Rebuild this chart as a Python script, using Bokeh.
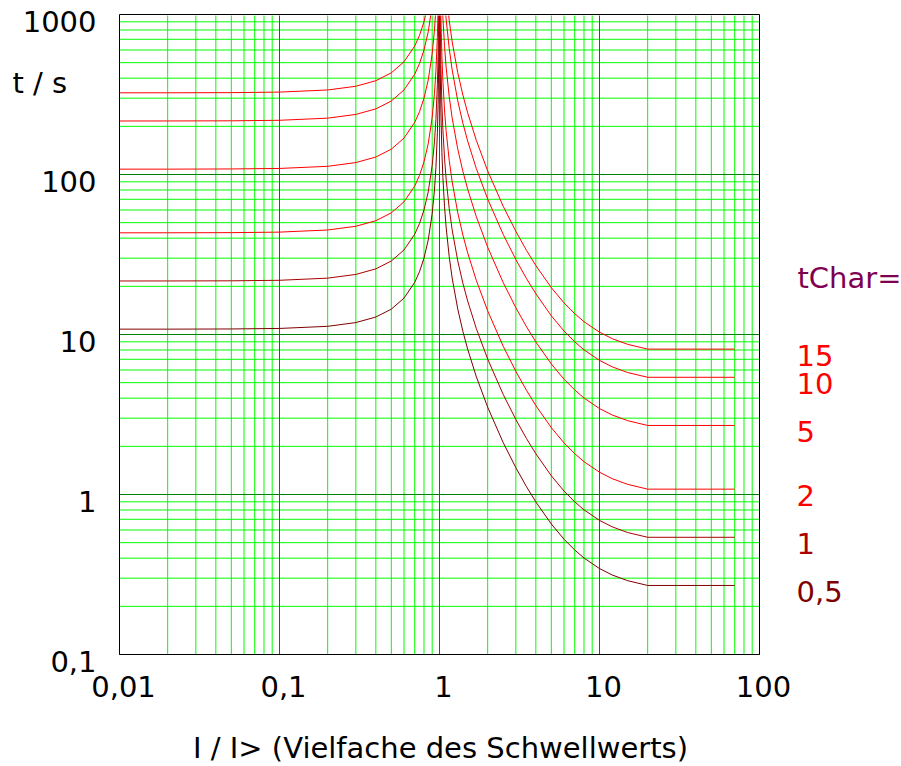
import math
from bokeh.plotting import figure
from bokeh.models import Range1d, LogScale
from bokeh.core.properties import value
from bokeh.embed import file_html
from bokeh.resources import INLINE

# ---- data ----
tchar = [0.5, 1, 2, 5, 10, 15]
tchar_labels = ["0,5", "1", "2", "5", "10", "15"]
curve_colors = ["#800000", "#aa0000", "#ff0000", "#ff0000", "#ff0000", "#ff0000"]

# left branch (I/I> < 1)
reset_I = [0.01, 0.02, 0.05, 0.1, 0.2, 0.3, 0.4, 0.5, 0.6, 0.7, 0.75, 0.8, 0.85,
           0.9, 0.93, 0.95, 0.97, 0.98, 0.99, 0.995, 0.998]
reset_t_05 = [10.80, 10.80, 10.83, 10.91, 11.25, 11.87, 12.86, 14.40, 16.88, 21.18, 24.69,
              30.00, 38.92, 56.84, 79.94, 110.8, 182.7, 272.7, 542.7, 1083, 2703]
reset_t_1 = [21.60, 21.61, 21.65, 21.82, 22.50, 23.74, 25.71, 28.80, 33.75, 42.35, 49.37,
             60.00, 77.84, 113.7, 159.9, 221.5, 365.5, 545.5, 1085, 2165, 5405]
reset_t_2 = [43.20, 43.22, 43.31, 43.64, 45.00, 47.47, 51.43, 57.60, 67.50, 84.71, 98.74,
             120.0, 155.7, 227.4, 319.8, 443.1, 731.0, 1091, 2171, 4331, 10811]
reset_t_5 = [108.0, 108.0, 108.3, 109.1, 112.5, 118.7, 128.6, 144.0, 168.8, 211.8, 246.9,
             300.0, 389.2, 568.4, 799.4, 1108, 1827, 2727, 5427, 10827, 27027]
reset_t_10 = [216.0, 216.1, 216.5, 218.2, 225.0, 237.4, 257.1, 288.0, 337.5, 423.5, 493.7,
              600.0, 778.4, 1137, 1599, 2215, 3655, 5455, 10854, 21654, 54054]
reset_t_15 = [324.0, 324.1, 324.8, 327.3, 337.5, 356.0, 385.7, 432.0, 506.3, 635.3, 740.6,
              900.0, 1168, 1705, 2398, 3323, 5482, 8182, 16281, 32481, 81081]

# right branch (I/I> > 1)
trip_I = [1.002, 1.005, 1.01, 1.02, 1.035, 1.05, 1.075, 1.1, 1.15, 1.2, 1.3, 1.4, 1.5, 1.7,
          2, 2.5, 3, 3.5, 4, 5, 6, 7, 8, 10, 12, 15, 20, 70]
trip_t_05 = [2449, 978.5, 488.1, 243.0, 137.9, 95.90, 63.25, 46.94, 30.65, 22.53, 14.46,
             10.46, 8.090, 5.435, 3.514, 2.113, 1.471, 1.117, 0.899, 0.654, 0.5255, 0.450,
             0.401, 0.3445, 0.314, 0.2893, 0.2701, 0.2701]
trip_t_1 = [4898, 1957, 976.1, 485.9, 275.8, 191.8, 126.5, 93.87, 61.30, 45.06, 28.91,
            20.92, 16.18, 10.87, 7.028, 4.226, 2.942, 2.234, 1.798, 1.308, 1.051, 0.900,
            0.802, 0.689, 0.628, 0.5785, 0.5402, 0.5402]
trip_t_2 = [9796, 3914, 1952, 971.8, 551.6, 383.6, 253.0, 187.7, 122.6, 90.12, 57.82,
            41.84, 32.36, 21.74, 14.06, 8.452, 5.884, 4.468, 3.596, 2.616, 2.102, 1.800,
            1.604, 1.378, 1.256, 1.157, 1.080, 1.080]
trip_t_5 = [24490, 9785, 4881, 2430, 1379, 959.0, 632.5, 469.4, 306.5, 225.3, 144.6,
            104.6, 80.90, 54.35, 35.14, 21.13, 14.71, 11.17, 8.990, 6.540, 5.255, 4.500,
            4.010, 3.445, 3.140, 2.893, 2.701, 2.701]
trip_t_10 = [48980, 19570, 9761, 4859, 2758, 1918, 1265, 938.7, 613.0, 450.6, 289.1,
             209.2, 161.8, 108.7, 70.28, 42.26, 29.42, 22.34, 17.98, 13.08, 10.51, 9.00,
             8.02, 6.89, 6.28, 5.785, 5.402, 5.402]
trip_t_15 = [73470, 29355, 14642, 7289, 4137, 2877, 1898, 1408, 919.5, 675.9, 433.7,
             313.8, 242.7, 163.1, 105.4, 63.39, 44.13, 33.51, 26.97, 19.62, 15.77, 13.50,
             12.03, 10.34, 9.42, 8.678, 8.103, 8.103]

reset_curves = [reset_t_05, reset_t_1, reset_t_2, reset_t_5, reset_t_10, reset_t_15]
trip_curves = [trip_t_05, trip_t_1, trip_t_2, trip_t_5, trip_t_10, trip_t_15]

x_ticks = [0.01, 0.1, 1, 10, 100]
x_tick_labels = ["0,01", "0,1", "1", "10", "100"]
y_ticks = [0.1, 1, 10, 100, 1000]
y_tick_labels = ["0,1", "1", "10", "100", "1000"]

x_label = "I / I> (Vielfache des Schwellwerts)"
y_label = "t / s"
legend_title = "tChar="

# ---- layout (pixels) ----
W, H = 901, 766
PL, PT, PS = 119, 14, 640          # plot area left, top, size
DEC = PS / 4.0                      # pixels per decade
FONT = value("DejaVu Sans")
FS = value("29px")

lx0 = math.log10(x_ticks[0]) - PL / DEC
lx1 = math.log10(x_ticks[0]) + (W - PL) / DEC
ly1 = math.log10(y_ticks[-1]) + PT / DEC
ly0 = math.log10(y_ticks[-1]) - (H - PT) / DEC

p = figure(width=W, height=H,
           x_range=Range1d(10 ** lx0, 10 ** lx1), y_range=Range1d(10 ** ly0, 10 ** ly1),
           x_axis_location=None, y_axis_location=None,
           toolbar_location=None, output_backend="svg", min_border=0)
p.x_scale = LogScale()
p.y_scale = LogScale()
p.outline_line_color = None
p.background_fill_color = "white"
p.border_fill_color = "white"
p.xgrid.visible = False
p.ygrid.visible = False

x_minor = [m * d for d in x_ticks[:-1] for m in range(2, 10)]
y_minor = [m * d for d in y_ticks[:-1] for m in range(2, 10)]
xlo, xhi, ylo, yhi = x_ticks[0], x_ticks[-1], y_ticks[0], y_ticks[-1]

# grid
p.segment(x0=x_minor, x1=x_minor, y0=[ylo] * len(x_minor), y1=[yhi] * len(x_minor),
          line_color="#00ff00", line_width=1)
p.segment(x0=[xlo] * len(y_minor), x1=[xhi] * len(y_minor), y0=y_minor, y1=y_minor,
          line_color="#00ff00", line_width=1)
p.segment(x0=x_ticks, x1=x_ticks, y0=[ylo] * 5, y1=[yhi] * 5,
          line_color="#008000", line_width=1)
p.segment(x0=[xlo] * 5, x1=[xhi] * 5, y0=y_ticks, y1=y_ticks,
          line_color="#008000", line_width=1)

# curves
for k in range(len(tchar)):
    p.line(reset_I, reset_curves[k], line_color=curve_colors[k], line_width=1)
    p.line(trip_I, trip_curves[k], line_color=curve_colors[k], line_width=1)

# mask above the plot area (hides the curve parts beyond 1000 s) and plot border
mask = p.quad(left=xlo, right=xhi, bottom=yhi, top=10 ** ly1,
              fill_color="white", fill_alpha=1.0, line_color="white", line_width=2)
mask.level = "overlay"
border = p.quad(left=xlo, right=xhi, bottom=ylo, top=yhi, fill_color=None,
                line_color="black", line_width=1)
border.level = "overlay"

# tick labels
p.text(x=x_ticks, y=[ylo] * 5, text=x_tick_labels, text_font=FONT, text_font_size=FS,
       text_color="black", text_align="center", text_baseline="alphabetic",
       x_offset=4, y_offset=32)
p.text(x=[xlo] * 5, y=y_ticks, text=y_tick_labels, text_font=FONT, text_font_size=FS,
       text_color="black", text_align="right", text_baseline="alphabetic",
       x_offset=-23, y_offset=7)

# axis titles
p.text(x=[1], y=[ylo], text=[x_label], text_font=FONT, text_font_size=FS,
       text_color="black", text_align="center", text_baseline="alphabetic",
       x_offset=1, y_offset=93)
p.text(x=[xlo], y=[yhi], text=[y_label], text_font=FONT, text_font_size=FS,
       text_color="black", text_align="left", text_baseline="alphabetic",
       x_offset=-107, y_offset=68)

# curve labels
p.text(x=[xhi], y=[yhi], text=[legend_title], text_font=FONT, text_font_size=FS,
       text_color="#800050", text_align="left", text_baseline="alphabetic",
       x_offset=38, y_offset=263)
p.text(x=[xhi] * len(tchar), y=[c[-1] for c in trip_curves], text=tchar_labels,
       text_font=FONT, text_font_size=FS, text_color=curve_colors,
       text_align="left", text_baseline="alphabetic", x_offset=37, y_offset=6)

open("out.html", "w").write(file_html(p, INLINE))
